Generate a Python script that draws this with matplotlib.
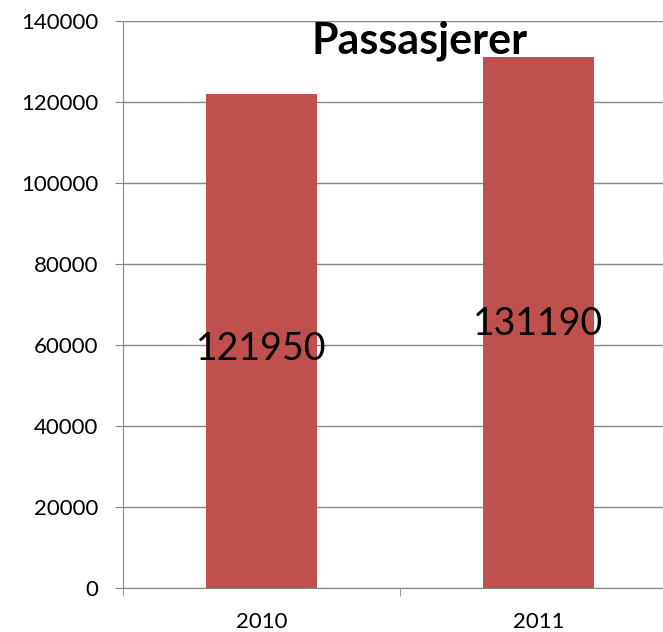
import matplotlib.pyplot as plt
import numpy as np

# data
years = ["2010", "2011"]
passengers = [121950, 131190]
yticks = [0, 20000, 40000, 60000, 80000, 100000, 120000, 140000]

plt.rcParams['font.family'] = ['Lato', 'DejaVu Sans']

fig = plt.figure(figsize=(6.63, 6.32), dpi=100)
# axes runs a bit past the right edge, like the cropped original
ax = fig.add_axes([0.1855, 0.0696, 0.8356, 0.8972])

x = np.arange(len(years))
ax.bar(x, passengers, width=0.4, color='#C0504D', zorder=3)

# value labels sit around the middle of each bar (excel style, not quite centred)
nudge = [-6, -1]
for xi, v, dy in zip(x, passengers, nudge):
    ax.annotate(str(v), xy=(xi, v / 2), xytext=(0, dy), textcoords='offset points',
                ha='center', va='center', fontsize=27, color='black', zorder=4)

ax.set_xlim(-0.5, len(years) - 0.5)
ax.set_ylim(0, 140000)
ax.set_yticks(yticks)
ax.set_yticklabels([str(t) for t in yticks], fontsize=16)
ax.set_xticks(x)
ax.set_xticklabels(years, fontsize=16)
ax.tick_params(axis='x', which='major', length=0, pad=17)
ax.set_xticks(np.arange(len(years) + 1) - 0.5, minor=True)
ax.tick_params(axis='x', which='minor', length=6, color='#868686', direction='out')
ax.tick_params(axis='y', length=6, color='#868686', pad=12)

ax.grid(axis='y', color='#868686', linewidth=1, zorder=0)
ax.set_axisbelow(True)
for s in ['top', 'right']:
    ax.spines[s].set_visible(False)
for s in ['left', 'bottom']:
    ax.spines[s].set_color('#868686')

fig.text(0.633, 0.935, "Passasjerer", fontsize=31, fontweight='bold',
         ha='center', va='center')

fig.savefig('out.png', dpi=100)
